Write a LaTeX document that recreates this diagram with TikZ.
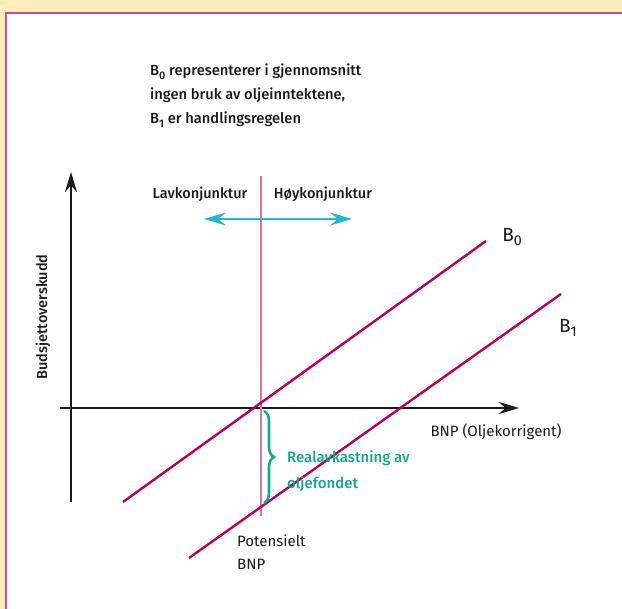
\documentclass[tikz,border=0pt]{standalone}
\usepackage{fontspec}
\setmainfont{Fira Sans}[BoldFont={* Medium}]
\usetikzlibrary{arrows.meta,positioning,decorations.pathreplacing}
\usepackage{xcolor}
\definecolor{bgyellow}{HTML}{FFEDBB}
\definecolor{framepink}{HTML}{C8508E}
\definecolor{linemag}{HTML}{B8005C}
\definecolor{potpink}{HTML}{D27A9E}
\definecolor{konjcyan}{HTML}{22B8D4}
\definecolor{fondgreen}{HTML}{16A88A}
\definecolor{axisblack}{HTML}{1A1A1A}
\newcommand{\bsub}[1]{\raisebox{-0.45ex}{\scalebox{0.75}{#1}}}

\begin{document}
\begin{tikzpicture}[x=1pt,y=-1pt,font=\fontsize{15}{18}\selectfont,
    axis/.style={axisblack,line width=2.4pt,-{Stealth[length=20pt,width=12pt]}},
    bline/.style={linemag,line width=2.4pt},
    lbl/.style={text=axisblack,inner sep=0pt}]
    \useasboundingbox (0,0) rectangle (622,609);
    \fill[bgyellow] (0,0) rectangle (622,609);
    \fill[white] (6,13) rectangle (622,609);
    \draw[framepink,line width=2pt] (6,609) -- (6,13) -- (622,13);
    % axes
    \coordinate (ybot) at (71,502); \coordinate (ytop) at (71,172);
    \coordinate (xlft) at (60,408); \coordinate (xrgt) at (519,408);
    \draw[axis] (ybot) -- (ytop);
    \draw[axis] (xlft) -- (xrgt);
    % potential output
    \coordinate (ptop) at (261,176); \coordinate (pbot) at (261,516);
    \draw[potpink,line width=2pt] (ptop) -- (pbot);
    % budget lines
    \coordinate (b0s) at (123,502); \coordinate (b0e) at (486,241);
    \coordinate (b1s) at (189,558); \coordinate (b1e) at (561,294);
    \draw[bline] (b0s) -- (b0e);
    \draw[bline] (b1s) -- (b1e);
    \node[lbl,font=\fontsize{19}{20}\selectfont] (b0lbl) at (512,237) {B\bsub{0}};
    \node[lbl,font=\fontsize{19}{20}\selectfont] (b1lbl) at (568,328) {B\bsub{1}};
    % cycle arrow
    \coordinate (cl) at (204,219); \coordinate (cr) at (352,219);
    \draw[konjcyan,line width=2.8pt,{Stealth[length=22pt,width=13pt,inset=8pt]}-{Stealth[length=22pt,width=13pt,inset=8pt]}] (cl) -- (cr);
    \node[lbl,font=\bfseries\fontsize{14.5}{17}\selectfont] (lav) at (200,194) {Lavkonjunktur};
    \node[lbl,font=\bfseries\fontsize{14.5}{17}\selectfont] (hoy) at (323,194) {Høykonjunktur};
    % brace
    \coordinate (brtop) at (264,411); \coordinate (brbot) at (264,503);
    \draw[fondgreen,line width=2.6pt,decorate,decoration={brace,amplitude=10pt}] (brtop) -- (brbot);
    \node[lbl,text=fondgreen,anchor=west,align=left,font=\bfseries\fontsize{15}{26}\selectfont] (fond) at (287,471) {Realavkastning av\\oljefondet};
    % labels
    \node[lbl,font=\bfseries\fontsize{14.7}{24}\selectfont,anchor=north west,align=left] (title) at (150,64)
      {B\bsub{0} representerer i gjennomsnitt\\ingen bruk av oljeinntektene,\\B\bsub{1} er handlingsregelen};
    \node[lbl] (bnp) at (496,432) {BNP (Oljekorrigent)};
    \node[lbl,anchor=west,align=left,font=\fontsize{15}{23}\selectfont] (pot) at (237,552) {Potensielt\\BNP};
    \node[lbl,rotate=90,font=\bfseries\fontsize{14.5}{17}\selectfont] (ylbl) at (43,317) {Budsjettoverskudd};
\end{tikzpicture}
\end{document}
